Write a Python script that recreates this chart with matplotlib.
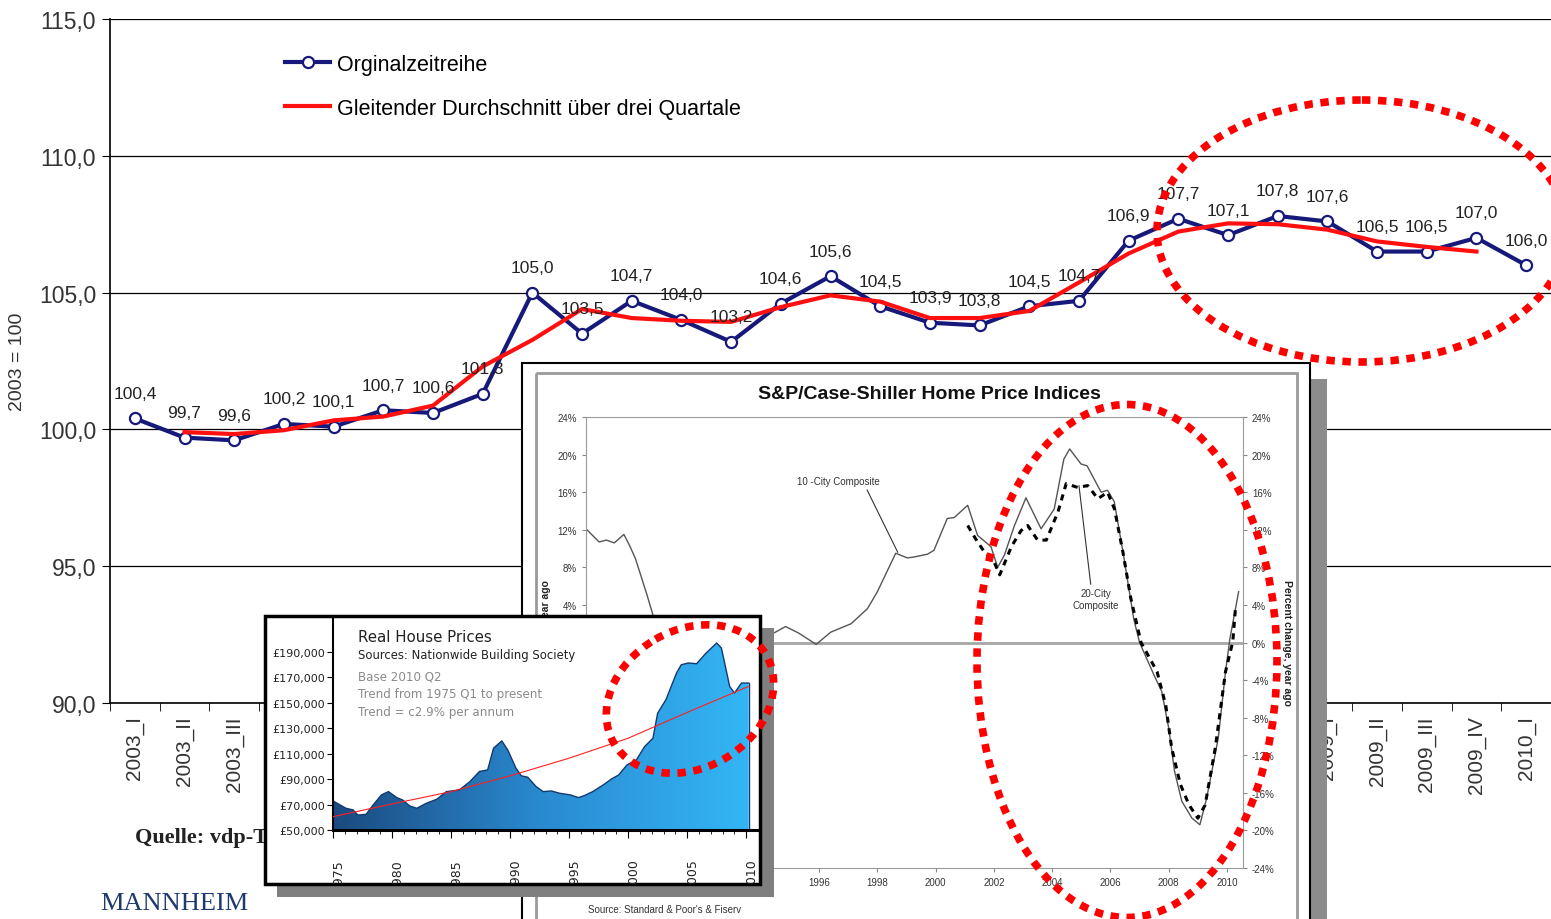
import numpy as np
import matplotlib
matplotlib.use("Agg")
import matplotlib.pyplot as plt
from matplotlib.patches import Rectangle, Ellipse, Polygon
from matplotlib.transforms import Affine2D, ScaledTranslation
from matplotlib.colors import LinearSegmentedColormap

# --- data: vdp index (2003 = 100) ---
quarters = []
for yr in range(2003, 2010):
    for q in ["I", "II", "III", "IV"]:
        quarters.append(f"{yr}_{q}")
quarters.append("2010_I")

vdp_index = [100.4, 99.7, 99.6, 100.2, 100.1, 100.7, 100.6, 101.3, 105.0, 103.5,
             104.7, 104.0, 103.2, 104.6, 105.6, 104.5, 103.9, 103.8, 104.5, 104.7,
             106.9, 107.7, 107.1, 107.8, 107.6, 106.5, 106.5, 107.0, 106.0]
# centred three-quarter moving average (2003_II .. 2009_IV)
vdp_ma3 = [99.90, 99.83, 99.97, 100.33, 100.47, 100.87, 102.30, 103.27, 104.40,
           104.07, 103.97, 103.93, 104.47, 104.90, 104.67, 104.07, 104.07, 104.33,
           105.37, 106.43, 107.23, 107.53, 107.50, 107.30, 106.87, 106.67, 106.50]

# --- data: S&P/Case-Shiller, % change year ago ---
cs10_year = [1988.0, 1988.45, 1988.7, 1988.97, 1989.3, 1989.5, 1989.7, 1990.1, 1990.3,
             1990.6, 1991.0, 1991.5, 1992.0, 1992.5, 1993.0, 1993.5, 1994.0, 1994.5,
             1994.85, 1995.3, 1995.9, 1996.4, 1997.1, 1997.66, 1998.0, 1998.63, 1999.03,
             1999.26, 1999.72, 1999.94, 2000.4, 2000.64, 2001.1, 2001.44, 2001.9, 2002.13,
             2002.36, 2002.7, 2003.1, 2003.62, 2004.07, 2004.4, 2004.6, 2004.99, 2005.2,
             2005.68, 2005.9, 2006.13, 2006.47, 2006.8, 2007.0, 2007.5, 2007.76, 2008.0,
             2008.2, 2008.45, 2008.8, 2009.07, 2009.3, 2009.7, 2009.95, 2010.1, 2010.4]
cs10_pct = [12.1, 10.7, 10.9, 10.6, 11.5, 10.3, 8.9, 5.0, 2.9,
            0.0, -3.5, -5.5, -4.0, -2.5, -2.0, -1.0, 0.3, 1.1,
            1.7, 1.0, -0.2, 1.1, 2.0, 3.6, 5.4, 9.5, 9.0,
            9.1, 9.4, 9.8, 13.2, 13.3, 14.6, 11.4, 10.2, 8.0,
            9.3, 12.4, 15.4, 12.1, 14.2, 19.5, 20.6, 19.0, 18.8,
            16.0, 16.2, 15.0, 8.9, 2.5, 0.0, -3.5, -5.2, -9.1,
            -13.7, -16.9, -18.7, -19.4, -16.6, -10.2, -3.1, 0.4, 5.4]
cs20_year = [2001.1, 2001.38, 2001.67, 2002.0, 2002.2, 2002.6, 2002.93, 2003.16, 2003.5,
             2003.8, 2004.2, 2004.48, 2004.88, 2005.22, 2005.57, 2005.9, 2006.14, 2006.43,
             2006.7, 2007.05, 2007.6, 2007.9, 2008.1, 2008.4, 2008.7, 2009.0, 2009.25,
             2009.6, 2009.95, 2010.2, 2010.3]
cs20_pct = [12.45, 11.0, 9.65, 8.6, 7.2, 10.2, 11.9, 12.45, 10.9,
            10.9, 13.9, 16.9, 16.5, 16.7, 15.3, 16.0, 14.2, 9.6,
            4.7, 0.0, -3.1, -6.7, -11.2, -15.1, -17.3, -18.7, -17.3,
            -11.2, -3.1, 0.1, 4.0]

# --- data: UK real house prices (Nationwide) ---
uk_year = [1975.0, 1975.6, 1976.1, 1976.7, 1977.1, 1977.8, 1978.4, 1979.1, 1979.7, 1980.4,
           1980.9, 1981.5, 1982.1, 1982.9, 1983.8, 1984.6, 1985.7, 1986.6, 1987.4, 1988.1,
           1988.6, 1989.3, 1989.8, 1990.5, 1990.96, 1991.5, 1992.2, 1992.8, 1993.5, 1994.2,
           1995.1, 1995.8, 1996.3, 1997.0, 1997.9, 1998.6, 1999.2, 1999.9, 2000.7, 2001.4,
           2002.1, 2002.5, 2003.2, 2004.1, 2004.5, 2005.1, 2005.8, 2006.6, 2007.5, 2007.9,
           2008.6, 2009.0, 2009.6, 2010.2]
uk_price = [72900, 69700, 67100, 65800, 61800, 62300, 69700, 77600, 80200, 75500,
            73600, 68900, 67100, 71000, 74200, 80200, 81500, 88100, 96000, 97300,
            114400, 120100, 113000, 98600, 92600, 91500, 84200, 80200, 80700, 78900,
            77600, 75500, 77100, 80200, 85500, 90200, 93300, 101200, 105200, 115700,
            122200, 141900, 152500, 173500, 180000, 181400, 180800, 189200, 197100, 193200,
            163000, 157700, 165600, 165600]
uk_trend_year = [1975, 1980, 1985, 1990, 1995, 2000, 2005, 2010.2]
uk_trend = [60500, 70500, 80200, 92600, 106500, 122200, 142500, 163000]

NAVY = "#16197a"
RED = "#ff1010"

W, H = 1551, 920
plt.rcParams["font.family"] = ["Liberation Sans", "DejaVu Sans"]
fig = plt.figure(figsize=(W / 100, H / 100), dpi=100, facecolor="white")
# pixel coordinates, origin top-left
PX = Affine2D().scale(1 / W, -1 / H).translate(0, 1) + fig.transFigure


def fbox(x0, y0, x1, y1):
    return [x0 / W, 1 - y1 / H, (x1 - x0) / W, (y1 - y0) / H]


def prect(x0, y0, x1, y1, **kw):
    r = Rectangle((x0, y0), x1 - x0, y1 - y0, transform=PX, **kw)
    fig.add_artist(r)
    return r


# ---------------- main chart ----------------
ax = fig.add_axes(fbox(110, 20, 1551, 704))
ax.set_zorder(0)
xs = np.arange(len(vdp_index))
l1, = ax.plot(xs, vdp_index, color=NAVY, lw=3, marker="o", ms=8, mfc="white",
              mec=NAVY, mew=1.6, zorder=3, label="Orginalzeitreihe")
l2, = ax.plot(xs[1:-1], vdp_ma3, color=RED, lw=3, zorder=4,
              label="Gleitender Durchschnitt über drei Quartale")
for i, v in enumerate(vdp_index):
    ax.annotate(f"{v:.1f}".replace(".", ","), (i, v), xytext=(0, 18),
                textcoords="offset points", ha="center", va="center",
                fontsize=12.5, color="#222222", zorder=5)

ax.set_xlim(-0.5, len(vdp_index) - 0.5)
ax.set_ylim(90, 115)
yt = np.arange(90, 116, 5)
ax.set_yticks(yt, labels=[f"{v:.1f}".replace(".", ",") for v in yt])
ax.yaxis.grid(True, color="black", lw=0.9)
ax.set_axisbelow(True)
ax.set_xticks(xs, labels=quarters, rotation=90)
ax.set_xticks(np.arange(-0.5, len(vdp_index), 1), minor=True)
ax.tick_params(axis="x", which="major", length=0, pad=9, labelsize=15, labelcolor="#333333")
ax.tick_params(axis="x", which="minor", length=6, direction="out")
ax.tick_params(axis="y", length=6, pad=4, labelsize=16.5, labelcolor="#333333")
for s in ["top", "right"]:
    ax.spines[s].set_visible(False)
ax.spines["left"].set_linewidth(1.2)
ax.spines["bottom"].set_linewidth(1.2)
ax.legend(handles=[l1, l2], loc="upper left", bbox_to_anchor=(285 / W, 1 - 55 / H),
          bbox_transform=fig.transFigure, frameon=False, fontsize=15.5,
          handlelength=2.1, handletextpad=0.3, labelspacing=1.05,
          borderpad=0, borderaxespad=0)
fig.text(18, 362, "2003 = 100", transform=PX, rotation=90, ha="center", va="center",
         fontsize=14, color="#333333", zorder=1)
fig.text(135, 838, "Quelle: vdp-Transaktionsdatenbank", transform=PX, ha="left",
         va="center", fontsize=16, fontweight="bold", family="Liberation Serif",
         color="#222222", zorder=1)
fig.text(100, 904, "MANNHEIM", transform=PX, ha="left", va="center", fontsize=19,
         family="Liberation Serif", color="#1f3a6e", zorder=1)

# ---------------- Case-Shiller inset ----------------
prect(1310, 380, 1327, 930, fc="#8c8c8c", ec="none", zorder=1.9)
prect(522, 364, 1310, 930, fc="white", ec="black", lw=1.5, zorder=2)
prect(536, 374, 1297, 930, fc="none", ec="#9a9a9a", lw=2, zorder=2.1)

cs = fig.add_axes(fbox(586, 418, 1243, 869))
cs.set_zorder(3)
cs.patch.set_alpha(0)
cs.axhline(0, color="#a6a6a6", lw=2, zorder=1)
cs.plot(cs10_year, cs10_pct, color="#555555", lw=1.0, zorder=2)
cs.plot(cs20_year, cs20_pct, color="black", lw=2.2, ls=(0, (2.0, 1.8)), zorder=3)
cs.set_xlim(1988, 2010.55)
cs.set_ylim(-24, 24)
cyt = np.arange(-24, 25, 4)
cs.set_yticks(cyt, labels=[f"{v}%" for v in cyt])
cs.set_xticks(np.arange(1988, 2011, 2))
cs.tick_params(labelsize=7, labelcolor="#333333", color="#888888", length=3,
               left=True, right=True, labelleft=True, labelright=True)
for s in cs.spines.values():
    s.set_color("#9a9a9a")
cs.annotate("10 -City Composite", xy=(1998.7, 9.6), xytext=(1996.67, 17.2),
            ha="center", va="center", fontsize=7, color="#333333",
            arrowprops=dict(arrowstyle="-", color="#333333", lw=0.8,
                            relpos=(0.82, 0.0), shrinkA=1, shrinkB=0))
cs.annotate("20-City\nComposite", xy=(2004.92, 16.7), xytext=(2005.5, 4.6),
            ha="center", va="center", fontsize=7, color="#333333",
            arrowprops=dict(arrowstyle="-", color="#333333", lw=0.8,
                            relpos=(0.4, 1.0), shrinkA=1, shrinkB=0))
fig.text(929, 395, "S&P/Case-Shiller Home Price Indices", transform=PX, ha="center",
         va="center", fontsize=14, fontweight="bold", color="#111111", zorder=3.5)
fig.text(546, 643, "Percent change, year ago", transform=PX, rotation=90, ha="center",
         va="center", fontsize=7.5, fontweight="bold", color="#222222", zorder=3.5)
fig.text(1287, 643, "Percent change, year ago", transform=PX, rotation=270, ha="center",
         va="center", fontsize=7.5, fontweight="bold", color="#222222", zorder=3.5)
fig.text(665, 910, "Source: Standard & Poor's & Fiserv", transform=PX, ha="center",
         va="center", fontsize=7, color="#333333", zorder=3.5)

# ---------------- UK inset ----------------
prect(277, 629, 774, 898, fc="#7f7f7f", ec="none", zorder=4)
uk_panel = prect(265, 617, 760, 885, fc="white", ec="black", lw=2.5, zorder=4.1)

uk = fig.add_axes(fbox(333, 620, 758, 831))
uk.set_zorder(5)
uk.patch.set_alpha(0)
ylo, yhi = 50000, 216000
grad = LinearSegmentedColormap.from_list("uk", ["#1b4a80", "#2a8ad0", "#33b6f6"])
im = uk.imshow(np.linspace(0, 1, 256).reshape(1, -1), extent=[1975, uk_year[-1], ylo, yhi],
               aspect="auto", cmap=grad, zorder=1)
poly = Polygon(np.column_stack([uk_year + [uk_year[-1], uk_year[0]],
                                uk_price + [ylo, ylo]]),
               closed=True, fc="none", ec="none", transform=uk.transData)
uk.add_patch(poly)
im.set_clip_path(poly)
uk.plot(uk_year, uk_price, color="#123a70", lw=1.0, zorder=2)
uk.plot([uk_year[-1], uk_year[-1]], [uk_price[-1], ylo], color="#123a70", lw=1.0, zorder=2)
uk.plot(uk_trend_year, uk_trend, color="#ff2020", lw=0.8, zorder=3)
uk.set_xlim(1975, 2011.0)
uk.set_ylim(ylo, yhi)
uyt = np.arange(50000, 190001, 20000)
uk.set_yticks(uyt, labels=[f"£{v:,}" for v in uyt])
uk.set_xticks(np.arange(1975, 2011, 5), labels=[str(y) for y in range(1975, 2011, 5)],
              rotation=90)
uk.set_xticks(np.arange(1975, 2011, 1), minor=True)
uk.tick_params(axis="y", labelsize=8, labelcolor="#222222", length=4, pad=2,
               labelfontfamily="DejaVu Sans")
uk.tick_params(axis="x", which="major", labelsize=9, labelcolor="#222222", length=6, pad=14,
               labelfontfamily="DejaVu Sans")
uk.tick_params(axis="x", which="minor", length=3)
shift = ScaledTranslation(5 / 100, 0, fig.dpi_scale_trans)
for t in uk.get_xticklabels():
    t.set_transform(t.get_transform() + shift)
    t.set_clip_path(uk_panel)
uk.spines["top"].set_visible(False)
uk.spines["right"].set_visible(False)
uk.spines["left"].set_linewidth(1.5)
uk.spines["bottom"].set_linewidth(2.2)

fig.text(358, 638, "Real House Prices", transform=PX, ha="left", va="center",
         fontsize=10.8, family="DejaVu Sans", color="#222222", zorder=6)
fig.text(358, 656, "Sources: Nationwide Building Society", transform=PX, ha="left",
         va="center", fontsize=8.4, family="DejaVu Sans", color="#222222", zorder=6)
for yy, s in [(677, "Base 2010 Q2"), (695, "Trend from 1975 Q1 to present"),
              (713, "Trend = c2.9% per annum")]:
    fig.text(358, yy, s, transform=PX, ha="left", va="center", fontsize=8.6,
             family="DejaVu Sans", color="#8a8a8a", zorder=6)

# ---------------- red dotted highlight ellipses ----------------
dots = dict(transform=PX, fill=False, ec="#ff0000", lw=5.5, ls=(0, (1.1, 1.0)), zorder=10)
fig.add_artist(Ellipse((1362, 232), 410, 262, **dots))
fig.add_artist(Ellipse((1127, 662), 300, 513, **dots))
fig.add_artist(Ellipse((690, 700), 176, 138, angle=-30, **dots))

fig.savefig("out.png", dpi=100, facecolor="white")
